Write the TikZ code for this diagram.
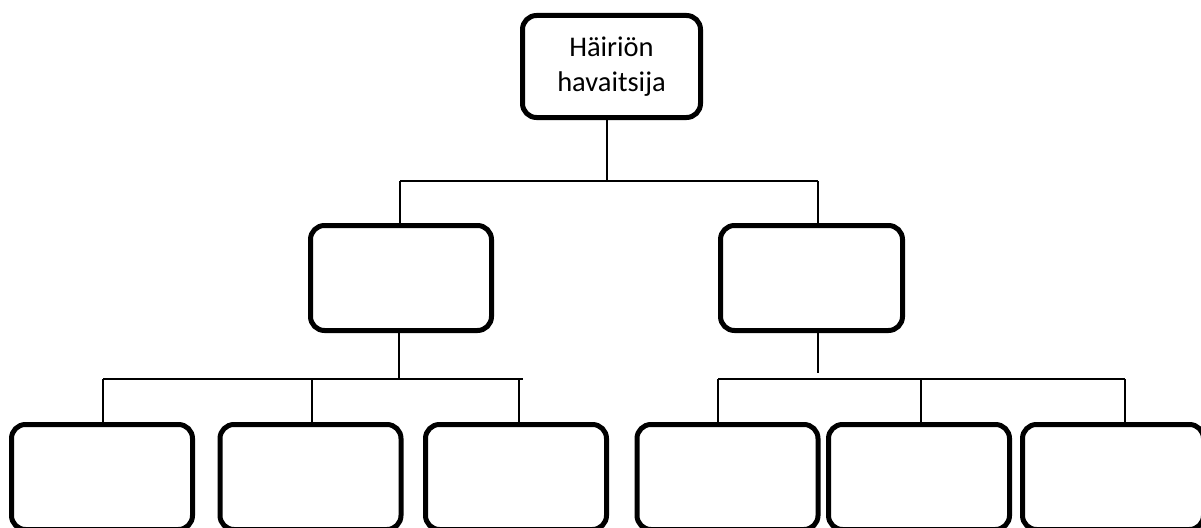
\documentclass[tikz,border=0pt]{standalone}
\usepackage{fontspec}
\setmainfont{Carlito}
\begin{document}
\begin{tikzpicture}[x=1pt,y=-1pt,
  orgbox/.style={draw=black, line width=5pt, rounded corners=14pt, fill=white,
    minimum width=181pt, minimum height=105pt, inner sep=0pt, align=center,
    font=\fontsize{28.5}{35}\selectfont},
  conn/.style={draw=black, line width=1.5pt}]
\useasboundingbox (0,0) rectangle (1201,527);
\clip (0,0) rectangle (1201,527);
% boxes
\node[orgbox, minimum width=178pt, minimum height=102pt] (top) at (611.5,66.5) {Häiriön\\havaitsija};
\node[orgbox] (ml) at (401,278) {};
\node[orgbox, minimum width=182pt] (mr) at (811.5,278) {};
\node[orgbox] (b1) at (102,477) {};
\node[orgbox] (b2) at (310.5,477) {};
\node[orgbox] (b3) at (516,477) {};
\node[orgbox] (b4) at (727.5,477) {};
\node[orgbox] (b5) at (919,477) {};
\node[orgbox] (b6) at (1113,477) {};
% bus coordinates
\coordinate (t0) at (607,181);
\coordinate (tl) at (400,181);
\coordinate (tr) at (818,181);
\coordinate (l0) at (399,379);
\coordinate (l1) at (103,379);
\coordinate (l2) at (312,379);
\coordinate (l3) at (519,379);
\coordinate (lend) at (523,379);
\coordinate (r0) at (818,373);
\coordinate (r1) at (718,379);
\coordinate (r2) at (921,379);
\coordinate (r3) at (1125,379);
% top level
\draw[conn] (top.south -| t0) -- (t0);
\draw[conn] (tl) -- (tr);
\draw[conn] (tl) -- (tl |- ml.north);
\draw[conn] (tr) -- (tr |- mr.north);
% left group
\draw[conn] (ml.south -| l0) -- (l0);
\draw[conn] (l1) -- (lend);
\draw[conn] (l1) -- (l1 |- b1.north);
\draw[conn] (l2) -- (l2 |- b2.north);
\draw[conn] (l3) -- (l3 |- b3.north);
% right group
\draw[conn] (mr.south -| r0) -- (r0);
\draw[conn] (r1) -- (r3);
\draw[conn] (r1) -- (r1 |- b4.north);
\draw[conn] (r2) -- (r2 |- b5.north);
\draw[conn] (r3) -- (r3 |- b6.north);
\end{tikzpicture}
\end{document}
